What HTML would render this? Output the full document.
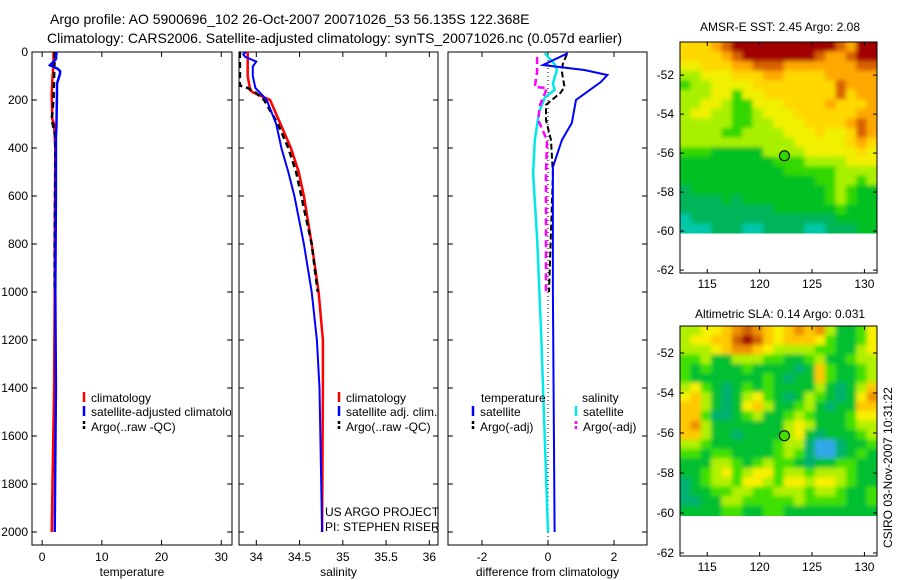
<!DOCTYPE html>
<html><head><meta charset="utf-8">
<style>
body{margin:0;background:#fff;}
svg{display:block;font-family:"Liberation Sans",sans-serif;}
text{fill:#000;}
</style></head>
<body>
<svg id="fig" width="900" height="580" viewBox="0 0 900 580">
<defs>
<clipPath id="clipP1"><rect x="32" y="52" width="199" height="493"/></clipPath>
<clipPath id="clipM1"><rect x="680" y="42" width="197" height="191.5"/></clipPath>
<clipPath id="clipM2"><rect x="680" y="326" width="197" height="190"/></clipPath>
<filter id="blur" x="-5%" y="-5%" width="110%" height="110%"><feGaussianBlur stdDeviation="2.2"/></filter>
</defs>
<text x="50" y="24" font-size="14">Argo profile: AO 5900696_102 26-Oct-2007 20071026_53 56.135S 122.368E</text>
<text x="47" y="43" font-size="14">Climatology: CARS2006. Satellite-adjusted climatology: synTS_20071026.nc (0.057d earlier)</text>
<text x="780" y="31" font-size="12" text-anchor="middle">AMSR-E SST: 2.45 Argo: 2.08</text>
<text x="780" y="318" font-size="12" text-anchor="middle">Altimetric SLA: 0.14 Argo: 0.031</text>
<text x="0" y="0" font-size="12" transform="translate(892,548) rotate(-90)">CSIRO 03-Nov-2007 10:31:22</text>
<text x="325" y="516" font-size="12">US ARGO PROJECT</text>
<text x="325" y="531" font-size="12">PI: STEPHEN RISER</text>
<g id="plots"></g>
</svg>
<script>
// ---------- profile data ----------
const tempClimDepth=[0,50,120,180,280,300,400,800,1000,1400,1700,2000];
const tempClimVal=[1.9,1.9,1.7,1.6,1.7,2.0,2.2,2.1,2.1,2.0,1.8,1.6];
const tempSatDepth=[0,30,55,70,80,90,130,300,360,600,1000,1400,2000];
const tempSatVal=[2.4,2.3,1.3,2.6,3.0,3.0,2.5,2.4,2.3,2.3,2.2,2.3,2.1];
const tempArgoDepth=[0,100,200,280,350,500,800,1000];
const tempArgoVal=[2.1,2.0,1.9,1.6,2.2,2.2,2.1,2.1];
const salClimDepth=[0,100,160,170,200,300,400,500,600,800,1000,1200,1400,2000];
const salClimVal=[33.9,33.9,33.93,33.97,34.16,34.28,34.4,34.49,34.55,34.64,34.72,34.77,34.77,34.76];
const salSatDepth=[0,10,20,40,60,100,150,180,200,300,400,500,600,800,1000,1200,1400,2000];
const salSatVal=[33.88,33.85,33.87,34.0,33.96,33.96,33.99,34.07,34.12,34.23,34.29,34.37,34.44,34.55,34.64,34.7,34.73,34.76];
const salArgoDepth=[0,140,150,165,200,300,400,500,600,800,1000];
const salArgoVal=[33.81,33.81,33.9,33.98,34.09,34.25,34.37,34.46,34.52,34.64,34.71];
const dTempSatDepth=[5,54,75,96,125,200,296,367,479,1000,2000];
const dTempSatVal=[0.6,-0.15,1.1,1.8,1.6,0.85,0.72,0.42,0.15,0.15,0.2];
const dTempArgoDepth=[10,50,83,146,170,220,283,367,506,1000];
const dTempArgoVal=[0.57,0.45,0.42,0.5,0.38,-0.06,-0.06,0.09,0.15,0.03];
const dSalSatDepth=[5,50,75,130,158,190,250,367,506,775,1200,1600,2000];
const dSalSatVal=[-0.1,0.2,0.27,0.15,0.2,-0.1,-0.27,-0.4,-0.45,-0.33,-0.2,-0.1,0.0];
const dSalArgoDepth=[21,83,146,150,220,283,367,506,1000];
const dSalArgoVal=[-0.33,-0.33,-0.4,-0.03,-0.24,-0.3,-0.03,-0.06,-0.06];
const depthTicks=[0,200,400,600,800,1000,1200,1400,1600,1800,2000];
const tempTicks=[0,10,20,30];
const salTicks=[34,34.5,35,35.5,36];
const diffTicks=[-2,0,2];
// ---------- map data (digits = colour class) ----------
const sstRows=[
"6667899999999998799","6666789999999877899","5566677888777777788","4455566677666677777",
"3445555666666668777","4445535566666668677","4455433555666676667","4554433455566666677",
"4444433445556666787","4444334444555655687","4444444444455555676","3332222244445555565",
"2222222223334444555","2222222222333334444","2222222222222334434","1222222222222234322",
"1111212222222234322","1111111112222223222","0111111111111112222","0001110011110011122"];
const slaRows=[
"4455678765676742235","4556689865666532235","4445677654444332245","3342244433223422344",
"3232223222212632234","3222222232122632234","4532123232222421246","5642124532124321257",
"6642125642234212266","6631123422343222355","6742222222454222344","6642212222452122234",
"4432222223441001223","3323322223431001232","2224432343321223322","2234534553443444322",
"1234435543554554322","1223344334443443223","1122443333343333223","2222332233222222222"];
const sstColors=["#00c8a8","#00b45a","#00c020","#30d800","#a8f000","#f0f000","#ffd800","#ffa800","#d86000","#a00000"];
const slaColors=["#30a8e8","#00b070","#00c030","#40e000","#b0f000","#f8f000","#ffc800","#f09000","#d06000","#a00000"];
const sstLonTicks=[115,120,125,130];
const latTicks=[-52,-54,-56,-58,-60,-62];
const floatLon=122.368, floatLat=-56.135;

const NS="http://www.w3.org/2000/svg";
const root=document.getElementById('plots');
function mk(tag,attrs,parent){const e=document.createElementNS(NS,tag);for(const k in attrs)e.setAttribute(k,attrs[k]);(parent||root).appendChild(e);return e;}

const PY0=52, PYPX=48/200;
function yD(d){return PY0+d*PYPX;}
const panels=[
 {x0:32,x1:232,v0:-1.7,v1:31.8,ticks:tempTicks,label:"temperature",name:"temperature-panel"},
 {x0:239,x1:438,v0:33.8,v1:36.1,ticks:salTicks,label:"salinity",name:"salinity-panel"},
 {x0:448,x1:647,v0:-3.03,v1:3.0,ticks:diffTicks,label:"difference from climatology",name:"difference-panel"}];
function xf(p){return v=>p.x0+(v-p.v0)/(p.v1-p.v0)*(p.x1-p.x0);}

panels.forEach((p,i)=>{
 const g=mk('g',{});
 
 
 const r=mk('rect',{x:p.x0,y:PY0,width:p.x1-p.x0,height:493,fill:'none',stroke:'#000','stroke-width':1},g);
 
 
 const X=xf(p);
 p.ticks.forEach(t=>{
  const x=X(t);
  mk('line',{x1:x,x2:x,y1:545,y2:540,stroke:'#000'},g);
  mk('line',{x1:x,x2:x,y1:52,y2:57,stroke:'#000'},g);
  const tx=mk('text',{x:x,y:561,'font-size':12,'text-anchor':'middle'},g);
  tx.textContent=String(t);
  
  
 });
 depthTicks.forEach(d=>{
  const y=yD(d);
  mk('line',{x1:p.x0,x2:p.x0+5,y1:y,y2:y,stroke:'#000'},g);
  mk('line',{x1:p.x1,x2:p.x1-5,y1:y,y2:y,stroke:'#000'},g);
  if(i===0){const tx=mk('text',{x:28,y:y+4,'font-size':12,'text-anchor':'end'},g);tx.textContent=String(d);
   
   }
 });
 const at=mk('text',{x:(p.x0+p.x1)/2,y:576,'font-size':12,'text-anchor':'middle'},g);
 at.textContent=p.label;
 
 
});

function series(p,dep,val,color,w,dash,name){
 const X=xf(p);
 const pts=dep.map((d,k)=>X(val[k]).toFixed(1)+","+yD(d).toFixed(1)).join(" ");
 const a={points:pts,fill:'none',stroke:color,'stroke-width':w};
 if(dash)a['stroke-dasharray']=dash;
 const e=mk('polyline',a);
 
 
}
{const X=xf(panels[2]);const z=mk('line',{x1:X(0),x2:X(0),y1:52,y2:545,stroke:'#000','stroke-dasharray':'1,3'});
 
 }
series(panels[0],tempClimDepth,tempClimVal,'#f00',2.5,null,'temp-climatology-line');
series(panels[0],tempArgoDepth,tempArgoVal,'#000',2.5,'6,4','temp-argo-line');
series(panels[0],tempSatDepth,tempSatVal,'#00f',2.5,null,'temp-satellite-line');
series(panels[1],salClimDepth,salClimVal,'#f00',2.5,null,'sal-climatology-line');
series(panels[1],salArgoDepth,salArgoVal,'#000',2.5,'6,4','sal-argo-line');
series(panels[1],salSatDepth,salSatVal,'#00f',2,null,'sal-satellite-line');
series(panels[2],dSalSatDepth,dSalSatVal,'#00e8e8',2.5,null,'diff-sal-satellite-line');
series(panels[2],dSalArgoDepth,dSalArgoVal,'#f0f',2.5,'7,4','diff-sal-argo-line');
series(panels[2],dTempArgoDepth,dTempArgoVal,'#000',2,'6,3','diff-temp-argo-line');
series(panels[2],dTempSatDepth,dTempSatVal,'#00f',2,null,'diff-temp-satellite-line');

function legend(x,y,color,dash,label,name,clip){
 const g=mk('g',clip?{'clip-path':clip}:{});
 
 
 const a={x1:x,x2:x,y1:y-6,y2:y+4,stroke:color,'stroke-width':2.5};
 if(dash)a['stroke-dasharray']=dash;
 mk('line',a,g);
 const t=mk('text',{x:x+7,y:y+4,'font-size':12},g);t.textContent=label;
}
legend(84,398,'#f00',null,'climatology','legend-climatology','url(#clipP1)');
legend(84,412,'#00f',null,'satellite-adjusted climatology','legend-satellite','url(#clipP1)');
legend(84,427,'#000','3,2','Argo(..raw -QC)','legend-argo','url(#clipP1)');
legend(339,398,'#f00',null,'climatology','legend-climatology-2');
legend(339,412,'#00f',null,'satellite adj. clim.','legend-satellite-2');
legend(339,427,'#000','3,2','Argo(..raw -QC)','legend-argo-2');
{const t=mk('text',{x:481,y:402,'font-size':12});t.textContent='temperature';
 
 const s=mk('text',{x:582,y:402,'font-size':12});s.textContent='salinity';
 }
legend(473,412,'#00f',null,'satellite','legend-temp-satellite');
legend(473,427,'#000','3,2','Argo(-adj)','legend-temp-argo');
legend(576,412,'#00e8e8',null,'satellite','legend-sal-satellite');
legend(576,427,'#f0f','3,2','Argo(-adj)','legend-sal-argo');

// ---------- maps ----------
const LON0=112.4, LON1=131.2;
function drawMap(rows,colors,top,bottom,latTop,latBot,name,clip){
 const x0=680,x1=877;
 const Y=lat=>top+(latTop-lat)/(latTop-latBot)*(bottom-top);
 const X=lon=>x0+(lon-LON0)/(LON1-LON0)*(x1-x0);
 const g=mk('g',{});
 
 
 const cg=mk('g',{'clip-path':clip},g);
 const bg=mk('g',{filter:'url(#blur)'},cg);
 const nr=rows.length,nc=rows[0].length;
 const dataBot=-60.1;
 const cw=(LON1-LON0)/nc, ch=(latTop-dataBot)/nr;
 rows.forEach((row,r)=>{for(let c=0;c<nc;c++){
  const la=latTop-r*ch, lo=LON0+c*cw;
  const xa=X(lo),ya=Y(la);
  let w=X(lo+cw)-xa+0.6, h=Y(la-ch)-ya+0.6;
  let xx=xa, yy=ya;
  if(c===0){xx-=6;w+=6;} if(c===nc-1){w+=6;}
  if(r===0){yy-=6;h+=6;} if(r===nr-1){h+=6;}
  const cell=mk('rect',{x:xx.toFixed(2),y:yy.toFixed(2),width:w.toFixed(2),height:h.toFixed(2),fill:colors[+row[c]]},bg);
  
  
 }});
 const fr=mk('rect',{x:x0,y:top,width:x1-x0,height:bottom-top,fill:'none',stroke:'#000'},g);
 
 
 latTicks.forEach(l=>{const y=Y(l);
  mk('line',{x1:x0,x2:x0+4,y1:y,y2:y,stroke:'#000'},g);
  mk('line',{x1:x1,x2:x1-4,y1:y,y2:y,stroke:'#000'},g);
  const t=mk('text',{x:674,y:y+4,'font-size':12,'text-anchor':'end'},g);t.textContent=String(l);
  
  });
 sstLonTicks.forEach(l=>{const x=X(l);
  mk('line',{x1:x,x2:x,y1:bottom,y2:bottom-4,stroke:'#000'},g);
  mk('line',{x1:x,x2:x,y1:top,y2:top+4,stroke:'#000'},g);
  const t=mk('text',{x:x,y:bottom+15,'font-size':12,'text-anchor':'middle'},g);t.textContent=String(l);
  
  });
 const m=mk('circle',{cx:X(floatLon),cy:Y(floatLat),r:5,fill:colors[3],stroke:'#000'},g);
 
 
}
drawMap(sstRows,sstColors,42,273,-50.3,-62.15,'sst-map','url(#clipM1)');
drawMap(slaRows,slaColors,326,556,-50.65,-62.15,'sla-map','url(#clipM2)');
</script>
</body></html>
